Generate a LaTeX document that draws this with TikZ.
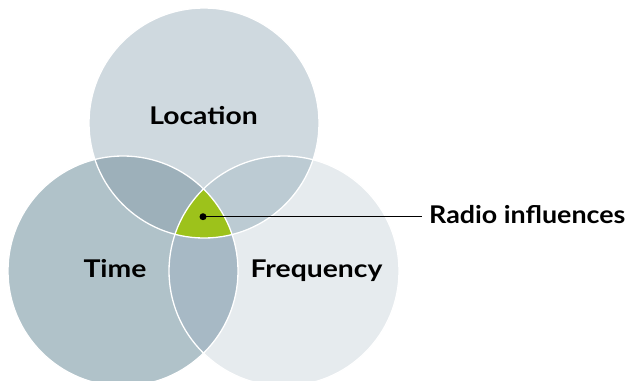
\documentclass[tikz,border=0pt]{standalone}
\usepackage{fontspec}
\setmainfont{Lato}
\definecolor{colL}{HTML}{CFD9DF}
\definecolor{colT}{HTML}{B0C2C9}
\definecolor{colF}{HTML}{E6EBEE}
\definecolor{colLT}{HTML}{9DB0BA}
\definecolor{colLF}{HTML}{BCCBD3}
\definecolor{colTF}{HTML}{A7B9C5}
\definecolor{colG}{HTML}{9DC21B}
\newcommand{\lbltext}[2][1.16]{\scalebox{#1}[1]{#2}}
\tikzset{
  lbl/.style={font=\bfseries\fontsize{24.4}{28}\selectfont, text=black, inner sep=0pt, anchor=base},
  rim/.style={draw=white, line width=1.3pt},
}
\begin{document}
\begin{tikzpicture}[x=1pt,y=-1pt]
\useasboundingbox (0,0) rectangle (631,380);
\clip (0,0) rectangle (631,380);
\coordinate (L) at (204,123);
\coordinate (T) at (123,271);
\coordinate (F) at (284,271);
\def\R{115pt}
\fill[colL] (L) circle[radius=\R];
\fill[colT] (T) circle[radius=\R];
\fill[colF] (F) circle[radius=\R];
\begin{scope}\clip (L) circle[radius=\R]; \fill[colLT] (T) circle[radius=\R];\end{scope}
\begin{scope}\clip (L) circle[radius=\R]; \fill[colLF] (F) circle[radius=\R];\end{scope}
\begin{scope}\clip (T) circle[radius=\R]; \fill[colTF] (F) circle[radius=\R];\end{scope}
\begin{scope}\clip (L) circle[radius=\R]; \clip (T) circle[radius=\R]; \fill[colG] (F) circle[radius=\R];\end{scope}
\draw[rim] (L) circle[radius=\R];
\draw[rim] (T) circle[radius=\R];
\draw[rim] (F) circle[radius=\R];
\node[lbl] (loc) at (203.5,124.3) {\lbltext{Location}};
\node[lbl] (time) at (115,277.2) {\lbltext{Time}};
\node[lbl] (freq) at (316.5,277.3) {\lbltext{Frequency}};
\node[lbl, anchor=base west] (radio) at (429,223.3) {\lbltext[1.1]{Radio influences}};
\coordinate (dot) at (203,216.7);
\fill[black] (dot) circle[radius=3.5pt];
\draw[black, line width=1pt] (dot) -- ([xshift=-7pt]dot -| radio.west);
\end{tikzpicture}
\end{document}
